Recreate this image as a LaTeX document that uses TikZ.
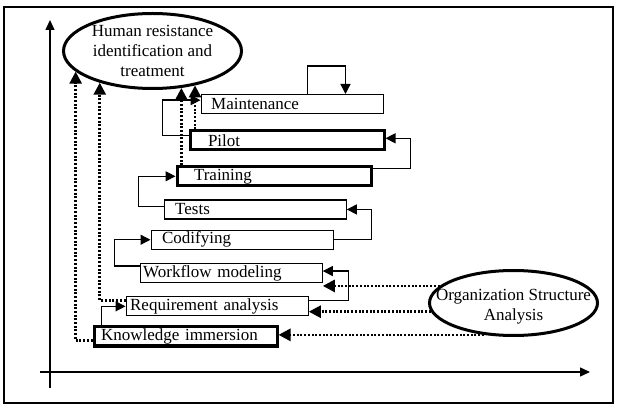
\documentclass[tikz,border=0pt]{standalone}
\usepackage{fontspec}
\setmainfont{Liberation Serif}
\usepackage{tikz}
\usetikzlibrary{arrows.meta, positioning, shapes.geometric}

\begin{document}
\begin{tikzpicture}[
  x=1pt, y=-1pt,
  font=\fontsize{17}{20}\selectfont,
  box/.style={draw, line width=1.3pt, minimum height=19pt, inner ysep=0pt, inner xsep=11pt, text width=160pt, align=left},
  heavy/.style={box, line width=3pt},
  oval/.style={draw, ellipse, line width=3pt, inner sep=0pt},
  flow/.style={-{Triangle[length=10pt, width=10pt]}, line width=1.3pt},
  dotflow/.style={-{Triangle[length=12pt, width=12pt]}, line width=2.6pt, dash pattern=on 2pt off 1.7pt},
  axis/.style={-{Triangle[length=10pt, width=9pt]}, line width=1.3pt}
]
\useasboundingbox (0,0) rectangle (619,406);
\draw[line width=2pt] (4,7) rectangle (613,403);

\coordinate (ybot) at (50,388);
\coordinate (ytop) at (50,20);
\coordinate (xleft) at (40,372);
\coordinate (xright) at (590,372);
\draw[axis] (ybot) -- (ytop);
\draw[axis] (xleft) -- (xright);

\node[heavy, inner xsep=7pt, text width=169pt, anchor=north west] (know) at (92.5,325.5) {Knowledge immersion};
\node[box, inner xsep=4pt, text width=174pt, above right=9pt and 33pt of know.north west] (req) {Requirement analysis};
\node[box, inner xsep=3pt, text width=176pt, above right=13pt and 14pt of req.north west] (work) {Workflow modeling};
\node[box, above right=13pt and 11pt of work.north west] (codif) {Codifying};
\node[box, above right=10pt and 13pt of codif.north west] (tests) {Tests};
\node[heavy, inner xsep=17pt, text width=160pt, above right=12pt and 12pt of tests.north west] (train) {Training};
\node[heavy, inner xsep=18pt, text width=158pt, above right=14pt and 13pt of train.north west] (pilot) {Pilot};
\node[box, inner xsep=10pt, text width=162pt, above right=15pt and 12pt of pilot.north west] (maint) {Maintenance};

\node[oval, minimum width=178pt, minimum height=75pt,
  label={[align=center]center:Human resistance\\identification and\\treatment}] (hum) at (152.5,51) {};
\node[oval, minimum width=168pt, minimum height=65pt,
  label={[align=center, yshift=-4pt]center:Organization Structure\\Analysis}] (org) at (513.5,303) {};

\draw[flow] ([xshift=9pt]know.north west) |- (req.west);
\draw[flow] ([yshift=6pt]req.east) -- ++(40,0) |- ([yshift=2pt]work.east);
\draw[flow] ([yshift=7pt]work.west) -- ++(-25,0) |- (codif.west);
\draw[flow] (codif.east) -- ++(38,0) |- (tests.east);
\draw[flow] ([yshift=3pt]tests.west) -- ++(-25,0) |- (train.west);
\draw[flow] ([yshift=8pt]train.east) -- ++(38,0) |- ([yshift=2pt]pilot.east);
\draw[flow] ([yshift=5pt]pilot.west) -- ++(-26,0) |- ([yshift=4pt]maint.west);
\draw[flow] ([xshift=107pt]maint.north west) -- ++(0,-28) -| ([xshift=145pt]maint.north west);

\draw[dotflow] ([yshift=-4pt]know.west) -| (hum.195);
\draw[dotflow] ([yshift=6pt]req.west) -| (hum.211);
\draw[dotflow] (hum.308 |- train.north) -- (hum.308);
\draw[dotflow] (hum.321 |- pilot.north) -- (hum.321);
\draw[dotflow] (org.167) -- (org.167 -| work.east);
\draw[dotflow] (org.186) -- (org.186 -| req.east);
\draw[dotflow] (org.227) -- (org.227 -| know.east);
\end{tikzpicture}
\end{document}
